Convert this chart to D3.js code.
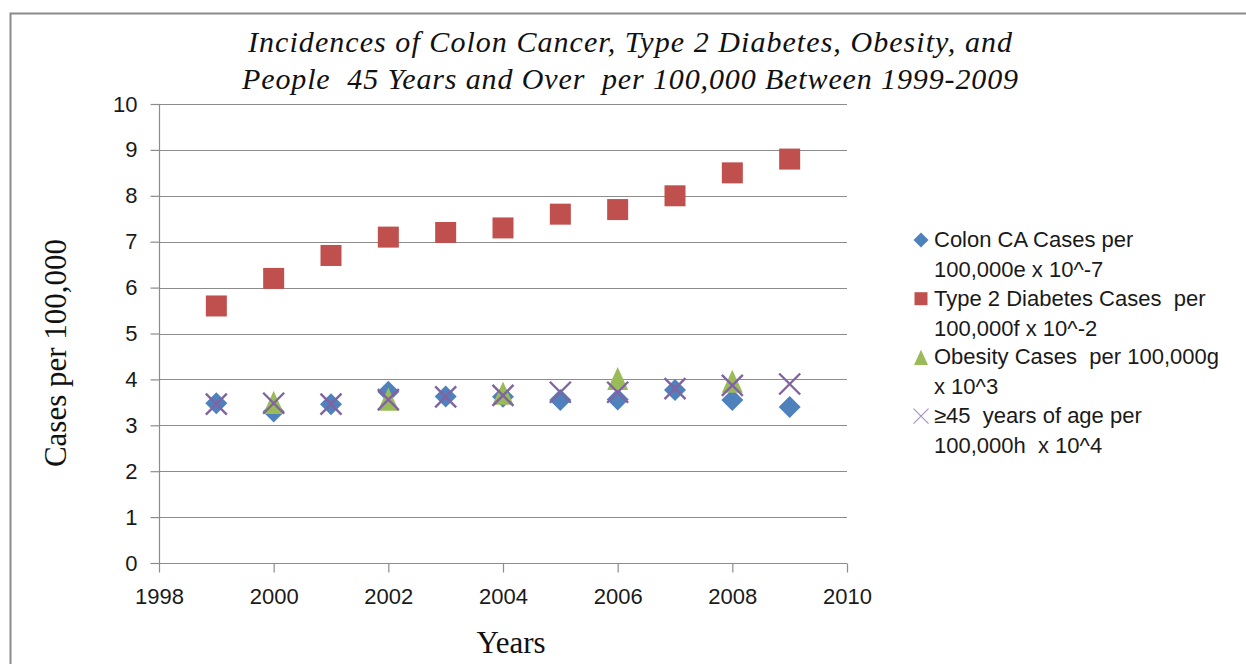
<!DOCTYPE html>
<html>
<head>
<meta charset="utf-8">
<script src="https://cdn.jsdelivr.net/npm/d3@7"></script>
<style>
  body { margin: 0; background: #fff; }
  svg { display: block; }
</style>
</head>
<body>
<svg id="chart"></svg>
<script>
const years = [1999, 2000, 2001, 2002, 2003, 2004, 2005, 2006, 2007, 2008, 2009];
const colonCases = [3.48, 3.3, 3.46, 3.73, 3.63, 3.62, 3.55, 3.56, 3.77, 3.55, 3.4];
const diabetesCases = [5.6, 6.2, 6.7, 7.1, 7.2, 7.3, 7.6, 7.7, 8.0, 8.5, 8.8];
const obesityCases = [null, 3.5, null, 3.57, null, 3.7, null, 4.02, null, 3.96, null];
const ageCases = [3.46, 3.48, 3.46, 3.56, 3.62, 3.65, 3.72, 3.72, 3.8, 3.87, 3.9];

const xTicks = [1998, 2000, 2002, 2004, 2006, 2008, 2010];
const yTicks = [0, 1, 2, 3, 4, 5, 6, 7, 8, 9, 10];

const titleLines = [
  "Incidences of Colon Cancer, Type 2 Diabetes, Obesity, and",
  "People  45 Years and Over  per 100,000 Between 1999-2009"
];
const legendLabels = [
  ["Colon CA Cases per", "100,000e x 10^-7"],
  ["Type 2 Diabetes Cases  per", "100,000f x 10^-2"],
  ["Obesity Cases  per 100,000g", "x 10^3"],
  ["\u226545  years of age per", "100,000h  x 10^4"]
];

const width = 1246;
const height = 664;
const grid = "#8c8c8c";

const svg = d3.select("#chart")
  .attr("width", width)
  .attr("height", height);

// outer chart border (runs off the right and bottom edge)
svg.append("rect")
  .attr("x", 10.5)
  .attr("y", 13.5)
  .attr("width", 1300)
  .attr("height", 700)
  .attr("fill", "#fff")
  .attr("stroke", "#8a8a8a")
  .attr("stroke-width", 2);

const x = d3.scaleLinear().domain([1998, 2010]).range([159, 847]);
const y = d3.scaleLinear().domain([0, 10]).range([563, 104]);

// gridlines
svg.append("g")
  .selectAll("line")
  .data(yTicks.slice(1))
  .join("line")
  .attr("x1", x(1998))
  .attr("x2", x(2010))
  .attr("y1", d => Math.round(y(d)) + 0.5)
  .attr("y2", d => Math.round(y(d)) + 0.5)
  .attr("stroke", grid)
  .attr("stroke-width", 1.2);

// axes
const yAxis = d3.axisLeft(y).tickValues(yTicks).tickSize(9).tickPadding(13);
const xAxis = d3.axisBottom(x).tickValues(xTicks).tickSize(9).tickPadding(16)
  .tickFormat(d3.format("d"));

const gy = svg.append("g")
  .attr("transform", `translate(${x(1998) + 0.5},0)`)
  .call(yAxis);
const gx = svg.append("g")
  .attr("transform", `translate(0,${Math.round(y(0)) + 0.5})`)
  .call(xAxis);

[gy, gx].forEach(g => {
  g.selectAll("path, line").attr("stroke", grid).attr("stroke-width", 1.2);
  g.select(".domain").attr("d", g === gy
    ? `M0,${y(10)}V${y(0)}`
    : `M${x(1998)},0H${x(2010)}`);
  g.selectAll("text")
    .attr("fill", "#1a1a1a")
    .style("font-family", "'Liberation Sans', Arial, sans-serif")
    .style("font-size", "22px");
});

// title
const titleWidths = [764, 776];
svg.append("g")
  .selectAll("text")
  .data(titleLines)
  .join("text")
  .attr("x", 630)
  .attr("y", (d, i) => 52 + i * 37)
  .attr("text-anchor", "middle")
  .attr("textLength", (d, i) => titleWidths[i])
  .attr("lengthAdjust", "spacing")
  .attr("fill", "#111")
  .style("font-family", "'Liberation Serif', 'Times New Roman', serif")
  .style("font-style", "italic")
  .style("font-size", "30px")
  .style("white-space", "pre")
  .text(d => d);

// axis titles
svg.append("text")
  .attr("transform", "translate(66,353) rotate(-90)")
  .attr("text-anchor", "middle")
  .attr("fill", "#111")
  .style("font-family", "'Liberation Serif', 'Times New Roman', serif")
  .style("font-size", "31px")
  .text("Cases per 100,000");

svg.append("text")
  .attr("x", 511)
  .attr("y", 653)
  .attr("text-anchor", "middle")
  .attr("fill", "#111")
  .style("font-family", "'Liberation Serif', 'Times New Roman', serif")
  .style("font-size", "31px")
  .text("Years");

// marker shapes
const colors = ["#4f81bd", "#c0504d", "#9bbb59", "#8064a2"];
function marker(g, kind, s, color) {
  if (kind === 0) {
    g.append("path").attr("d", `M0,${-s}L${s},0L0,${s}L${-s},0Z`).attr("fill", color);
  } else if (kind === 1) {
    g.append("rect").attr("x", -s).attr("y", -s).attr("width", 2 * s).attr("height", 2 * s)
      .attr("fill", color);
  } else if (kind === 2) {
    g.append("path").attr("d", `M0,${-s * 1.1}L${s},${s * 1.1}L${-s},${s * 1.1}Z`).attr("fill", color);
  } else {
    g.append("path").attr("d", `M${-s},${-s}L${s},${s}M${-s},${s}L${s},${-s}`)
      .attr("stroke", color).attr("stroke-width", 2.4).attr("fill", "none");
  }
}

const series = [colonCases, diabetesCases, obesityCases, ageCases];
const sizes = [11, 10.5, 10.5, 10.5];

series.forEach((vals, k) => {
  const pts = years.map((yr, i) => ({ yr, v: vals[i] })).filter(d => d.v != null);
  svg.append("g")
    .selectAll("g")
    .data(pts)
    .join("g")
    .attr("transform", d => `translate(${x(d.yr)},${y(d.v)})`)
    .each(function () { marker(d3.select(this), k, sizes[k], colors[k]); });
});

// legend
const legendSizes = [7.5, 6.5, 7, 7.5];
const legend = svg.append("g");
legendLabels.forEach((lines, i) => {
  const top = 247 + i * 58.7;
  const mg = legend.append("g")
    .attr("transform", `translate(921,${top - 7})`);
  marker(mg, i, legendSizes[i], colors[i]);
  if (i === 3) mg.select("path").attr("stroke-width", 1.3).attr("stroke", "#a796c4");
  lines.forEach((t, j) => {
    legend.append("text")
      .attr("x", 934)
      .attr("y", top + j * 30)
      .attr("fill", "#1a1a1a")
      .style("font-family", "'Liberation Sans', Arial, sans-serif")
      .style("font-size", "22px")
      .style("white-space", "pre")
      .text(t);
  });
});
</script>
</body>
</html>
